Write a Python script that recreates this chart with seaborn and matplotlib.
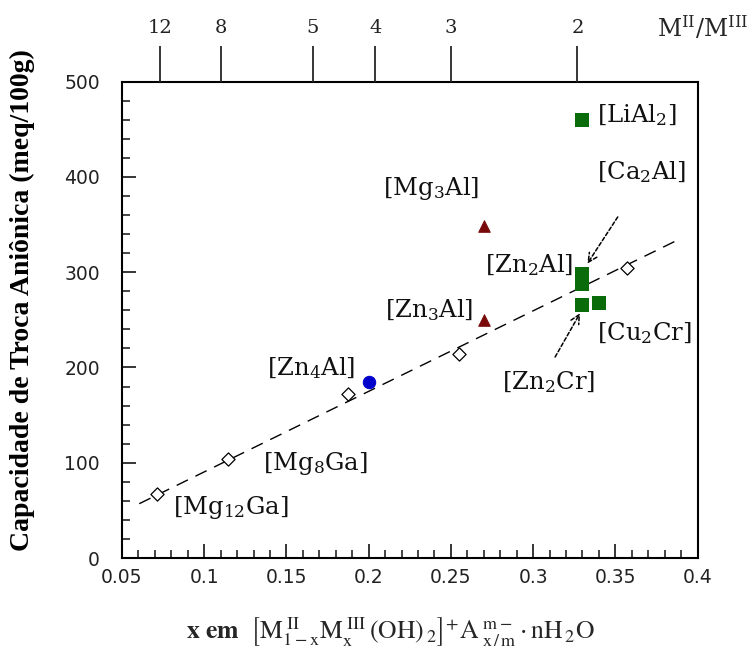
import numpy as np
import pandas as pd
import seaborn as sns
import matplotlib
matplotlib.use("Agg")
import matplotlib.pyplot as plt
from matplotlib.ticker import MultipleLocator

sns.set_theme(style="white")
plt.rcParams["font.family"] = ["DejaVu Sans"]

# ---------------- data ----------------
diamond_x = [0.0715, 0.1147, 0.1877, 0.255, 0.357]
diamond_y = [67, 104, 172, 214, 304]
circle_x = [0.20]
circle_y = [185]
triangle_x = [0.27, 0.27]
triangle_y = [349, 250]
square_x = [0.33, 0.33, 0.33, 0.34, 0.33]
square_y = [298, 288, 266, 268, 460]
fit_x = [0.0605, 0.387]
fit_y = [57, 333]

xtick_vals = [0.05, 0.1, 0.15, 0.2, 0.25, 0.3, 0.35, 0.4]
xtick_labels = ["0.05", "0.1", "0.15", "0.2", "0.25", "0.3", "0.35", "0.4"]
ytick_vals = [0, 100, 200, 300, 400, 500]
top_tick_pos = [0.073, 0.110, 0.166, 0.204, 0.250, 0.327]
top_tick_labels = ["12", "8", "5", "4", "3", "2"]

labels_text = [r"[Mg$_{12}$Ga]", r"[Mg$_{8}$Ga]", r"[Zn$_{4}$Al]", r"[Zn$_{3}$Al]",
               r"[Mg$_{3}$Al]", r"[Zn$_{2}$Al]", r"[Ca$_{2}$Al]", r"[LiAl$_{2}$]",
               r"[Cu$_{2}$Cr]", r"[Zn$_{2}$Cr]"]
labels_x = [0.0811, 0.1356, 0.1917, 0.2635, 0.2672, 0.3243, 0.3389, 0.3387, 0.3387, 0.3097]
labels_y = [52.5, 99.7, 199.5, 260.3, 388.4, 307.6, 405, 465, 236, 185]
labels_ha = ["left", "left", "right", "right", "right", "right", "left", "left", "left", "center"]

arrow_heads = [(0.333, 309), (0.3286, 257)]
arrow_tails = [(0.3515, 358), (0.3134, 211)]

# ---------------- figure ----------------
fig = plt.figure(figsize=(7.55, 6.57), dpi=100)
ax = fig.add_axes([122 / 755, 1 - 558 / 657, (697.5 - 122) / 755, (558 - 81.7) / 657])
ax.set_facecolor("white")

sns.lineplot(x=fit_x, y=fit_y, ax=ax, color="black", lw=1.0)
ax.lines[-1].set_dashes([9, 6])

sns.scatterplot(x=diamond_x, y=diamond_y, ax=ax, marker="D", s=45,
                facecolor="white", edgecolor="black", linewidth=0.9, zorder=3)
sns.scatterplot(x=circle_x, y=circle_y, ax=ax, marker="o", s=80,
                color="#0000cc", edgecolor="#0000cc", zorder=3)
sns.scatterplot(x=triangle_x, y=triangle_y, ax=ax, marker="^", s=70,
                color="#7a0a0a", edgecolor="#7a0a0a", zorder=3)
sns.scatterplot(x=square_x, y=square_y, ax=ax, marker="s", s=115,
                color="#0a6b0a", edgecolor="#0a6b0a", linewidth=0, zorder=3)

for t, x, y, ha in zip(labels_text, labels_x, labels_y, labels_ha):
    ax.text(x, y, t, ha=ha, va="center", fontsize=17.5, family="DejaVu Serif",
            math_fontfamily="dejavuserif", color="#111111")

for head, tail in zip(arrow_heads, arrow_tails):
    ax.annotate("", xy=head, xytext=tail,
                arrowprops=dict(arrowstyle="->", linestyle=(0, (2.5, 1.5)), lw=1.1,
                                color="black", mutation_scale=16, shrinkA=0, shrinkB=0))

ax.set_xlim(0.05, 0.4)
ax.set_ylim(0, 500)
ax.set_xticks(xtick_vals)
ax.set_xticklabels(xtick_labels)
ax.set_yticks(ytick_vals)
ax.xaxis.set_minor_locator(MultipleLocator(0.01))
ax.yaxis.set_minor_locator(MultipleLocator(20))
ax.tick_params(axis="both", which="major", direction="in", length=10, width=1.3,
               labelsize=13.5, labelcolor="#222222", bottom=True, left=True,
               top=False, right=False)
ax.tick_params(axis="x", which="major", pad=7)
ax.tick_params(axis="y", which="major", pad=16)
ax.tick_params(axis="both", which="minor", direction="in", length=6, width=1.2,
               bottom=True, left=True, top=False, right=False)
for sp in ax.spines.values():
    sp.set_color("black")
    sp.set_linewidth(1.5)

ax.set_xlabel("")
ax.set_ylabel("Capacidade de Troca Aniônica (meq/100g)", fontsize=20,
              fontweight="bold", family="Liberation Serif", color="black")
ax.yaxis.set_label_coords(-0.152, 0.542)

# top axis
ax2 = ax.twiny()
ax2.set_xlim(ax.get_xlim())
ax2.set_xticks(top_tick_pos)
ax2.set_xticklabels(top_tick_labels, family="DejaVu Serif")
ax2.tick_params(axis="x", which="major", direction="out", length=26, width=1.3,
                labelsize=14, pad=6, labelcolor="#222222", top=True, bottom=False)
ax2.xaxis.set_minor_locator(plt.NullLocator())
for sp in ax2.spines.values():
    sp.set_visible(False)

fig.text(703 / 755, 1 - 28 / 657, r"M$^{\mathrm{II}}$/M$^{\mathrm{III}}$", ha="center",
         va="center", fontsize=17, family="DejaVu Serif", math_fontfamily="dejavuserif")

fig.text(390 / 755, 1 - 632 / 657,
         r"$\mathbf{x\ em}\ \ \left[\mathrm{M}^{\ \mathrm{II}}_{1-\mathrm{x}}\mathrm{M}^{\ \mathrm{III}}_{\mathrm{x}}\,(\mathrm{OH})_{\,2}\right]^{+}\mathrm{A}^{\ \mathrm{m}-}_{\ \mathrm{x}\,/\,\mathrm{m}}\cdot\mathrm{nH}_{\,2}\mathrm{O}$",
         ha="center", va="center", fontsize=18.5, math_fontfamily="stix")

fig.savefig("out.png", dpi=100, facecolor="white")
